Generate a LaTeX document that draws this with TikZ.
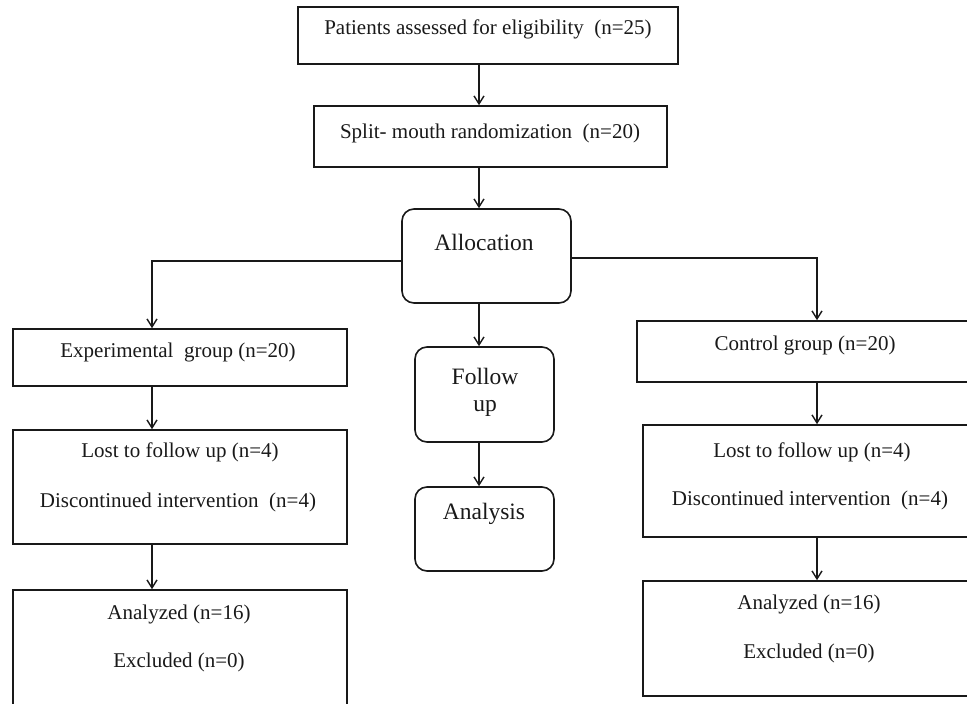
\documentclass[tikz,border=0pt]{standalone}
\usepackage{fontspec}
\setmainfont{Liberation Serif}
\usetikzlibrary{arrows.meta,fit}
\begin{document}
\begin{tikzpicture}[x=1pt,y=-1pt,
  box/.style={draw=black!90, line width=1.6pt, inner sep=0pt, fill=none},
  rbox/.style={box, rounded corners=12pt},
  txt/.style={font=\fontsize{21}{25}\selectfont, inner sep=0pt, text=black!90},
  bigtxt/.style={txt, font=\fontsize{23.5}{28}\selectfont},
  arr/.style={draw=black!90, line width=1.5pt, -{Straight Barb[length=8pt,width=10pt,line width=1.4pt]}}]
\useasboundingbox (0,0) rectangle (967,704);
\clip (0,0) rectangle (967,704);
% boxes
\node[box, fit={(298,7) (678,64)}] (elig) {};
\node[box, fit={(314,106) (667,167)}] (split) {};
\node[rbox, fit={(402,209) (571,303)}] (alloc) {};
\node[box, fit={(13,329) (347,386)}] (exp) {};
\node[box, fit={(13,430) (347,544)}] (lostL) {};
\node[box, fit={(13,590) (347,730)}] (anaL) {};
\node[rbox, fit={(415,347) (554,442)}] (follow) {};
\node[rbox, fit={(415,487) (554,571)}] (analysis) {};
\node[box, fit={(637,321) (990,382)}] (ctrl) {};
\node[box, fit={(643,425) (990,537)}] (lostR) {};
\node[box, fit={(643,581) (990,696)}] (anaR) {};
% texts
\node[txt] (t1) at (488,29) {Patients assessed for eligibility\ \ (n=25)};
\node[txt] (t2) at (490,133) {Split- mouth randomization\ \ (n=20)};
\node[bigtxt] (t3) at (484,242) {Allocation};
\node[txt] (t4) at (178,352) {Experimental\ \ group (n=20)};
\node[txt] (t5) at (180,452) {Lost to follow up (n=4)};
\node[txt] (t6) at (178,502) {Discontinued intervention\ \ (n=4)};
\node[txt] (t7) at (179,614) {Analyzed (n=16)};
\node[txt] (t8) at (179,662) {Excluded (n=0)};
\node[bigtxt] (t9) at (485,376) {Follow};
\node[bigtxt] (t10) at (485,408) {up};
\node[bigtxt] (t11) at (484,514) {Analysis};
\node[txt] (t12) at (805,345) {Control group (n=20)};
\node[txt] (t13) at (812,452) {Lost to follow up (n=4)};
\node[txt] (t14) at (810,500) {Discontinued intervention\ \ (n=4)};
\node[txt] (t15) at (809,604) {Analyzed (n=16)};
\node[txt] (t16) at (809,653) {Excluded (n=0)};
% connector guides
\coordinate (cx) at (479,0);
\coordinate (lx) at (152,261);
\coordinate (rx) at (817,258);
% connectors
\draw[arr] (elig.south -| cx) -- (split.north -| cx);
\draw[arr] (split.south -| cx) -- (alloc.north -| cx);
\draw[arr] (alloc.south -| cx) -- (follow.north -| cx);
\draw[arr] (follow.south -| cx) -- (analysis.north -| cx);
\draw[arr] (alloc.west |- lx) -| (exp.north -| lx);
\draw[arr] (alloc.east |- rx) -| (ctrl.north -| rx);
\draw[arr] (exp.south -| lx) -- (lostL.north -| lx);
\draw[arr] (lostL.south -| lx) -- (anaL.north -| lx);
\draw[arr] (ctrl.south -| rx) -- (lostR.north -| rx);
\draw[arr] (lostR.south -| rx) -- (anaR.north -| rx);
\end{tikzpicture}
\end{document}
